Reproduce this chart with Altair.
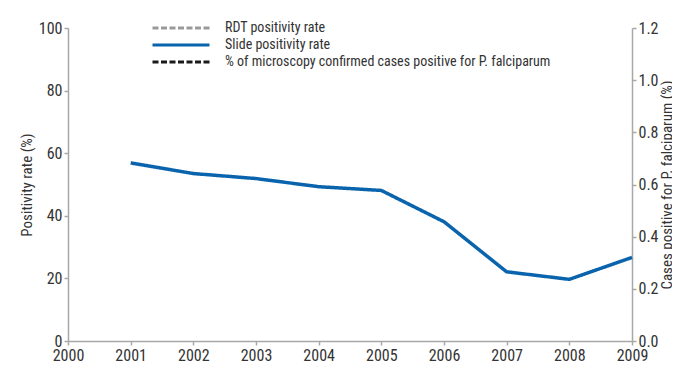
import altair as alt
import pandas as pd

FONT = ("Roboto Condensed, Noto Sans Condensed, Open Sans Condensed, "
        "Liberation Sans Narrow, DejaVu Sans Condensed, Liberation Sans, sans-serif")

years = [2001, 2002, 2003, 2004, 2005, 2006, 2007, 2008, 2009]
slide_rate = [56.9, 53.5, 51.9, 49.3, 48.1, 38.1, 22.1, 19.7, 26.7]
rdt_rate = [None] * 9          # no RDT data shown
pf_share = [None] * 9          # no microscopy P. falciparum data shown

series_names = [
    "RDT positivity rate",
    "Slide positivity rate",
    "% of microscopy confirmed cases positive for P. falciparum",
]
series_colors = ["#9a9a9a", "#0a64ad", "#1a1a1a"]
series_dash = [[6, 2.5], [1, 0], [6, 2.5]]

x_ticks = list(range(2000, 2010))
left_ticks = [0, 20, 40, 60, 80, 100]
right_ticks = [0.0, 0.2, 0.4, 0.6, 0.8, 1.0, 1.2]

left_df = pd.DataFrame(
    {
        "year": years * 2,
        "series": [series_names[0]] * 9 + [series_names[1]] * 9,
        "value": rdt_rate + slide_rate,
    }
)
right_df = pd.DataFrame(
    {"year": years, "series": [series_names[2]] * 9, "value": pf_share}
)

# long horizontal stroke symbol (custom path, wider than its nominal size box)
LEGEND_STROKE = "M-3.5625,0H3.5625"

legend_props = dict(
    title=None,
    orient="none",
    legendX=103.5,
    legendY=-9.5,
    symbolType=LEGEND_STROKE,
    symbolSize=256,
    symbolStrokeWidth=3,
    labelOffset=34.5,
    labelFont=FONT,
    labelFontSize=14,
    labelColor="#333333",
    rowPadding=0,
    labelLimit=420,
)

x_enc = alt.X(
    "year:Q",
    scale=alt.Scale(domain=[2000, 2009], nice=False, zero=False),
    axis=alt.Axis(values=x_ticks, format="d", title=None, labelPadding=2,
                  labelFlush=False),
)
color_enc = alt.Color(
    "series:N",
    scale=alt.Scale(domain=series_names, range=series_colors),
    legend=alt.Legend(**legend_props),
)
dash_enc = alt.StrokeDash(
    "series:N",
    scale=alt.Scale(domain=series_names, range=series_dash),
    legend=alt.Legend(**legend_props),
)

left = (
    alt.Chart(left_df)
    .mark_line(strokeWidth=3.5)
    .encode(
        x=x_enc,
        y=alt.Y(
            "value:Q",
            scale=alt.Scale(domain=[0, 100], nice=False),
            axis=alt.Axis(values=left_ticks, title="Positivity rate (%)",
                          titlePadding=4, orient="left"),
        ),
        color=color_enc,
        strokeDash=dash_enc,
    )
)

right = (
    alt.Chart(right_df)
    .mark_line(strokeWidth=3.5)
    .encode(
        x=x_enc,
        y=alt.Y(
            "value:Q",
            scale=alt.Scale(domain=[0, 1.2], nice=False),
            axis=alt.Axis(
                values=right_ticks,
                format=".1f",
                title="Cases positive for P. falciparum (%)",
                orient="right",
                titleAngle=270,
                titleBaseline="top",
                titlePadding=1,
            ),
        ),
        color=color_enc,
        strokeDash=dash_enc,
    )
)

chart = (
    alt.layer(left, right)
    .resolve_scale(y="independent")
    .properties(
        width=564,
        height=313,
        autosize=alt.AutoSizeParams(type="none"),
        padding={"left": 60, "top": 20, "right": 40, "bottom": 24},
    )
    .configure_view(stroke=None)
    .configure_axis(
        grid=False,
        domainColor="#a8a8a8",
        domainWidth=1.5,
        tickColor="#a8a8a8",
        tickWidth=1.5,
        tickSize=4,
        labelColor="#333333",
        titleColor="#333333",
        labelFont=FONT,
        titleFont=FONT,
        labelFontSize=16,
        titleFontSize=15,
        titleFontWeight="normal",
    )
)

chart.save("out.html", embed_options={"renderer": "svg", "actions": False})
